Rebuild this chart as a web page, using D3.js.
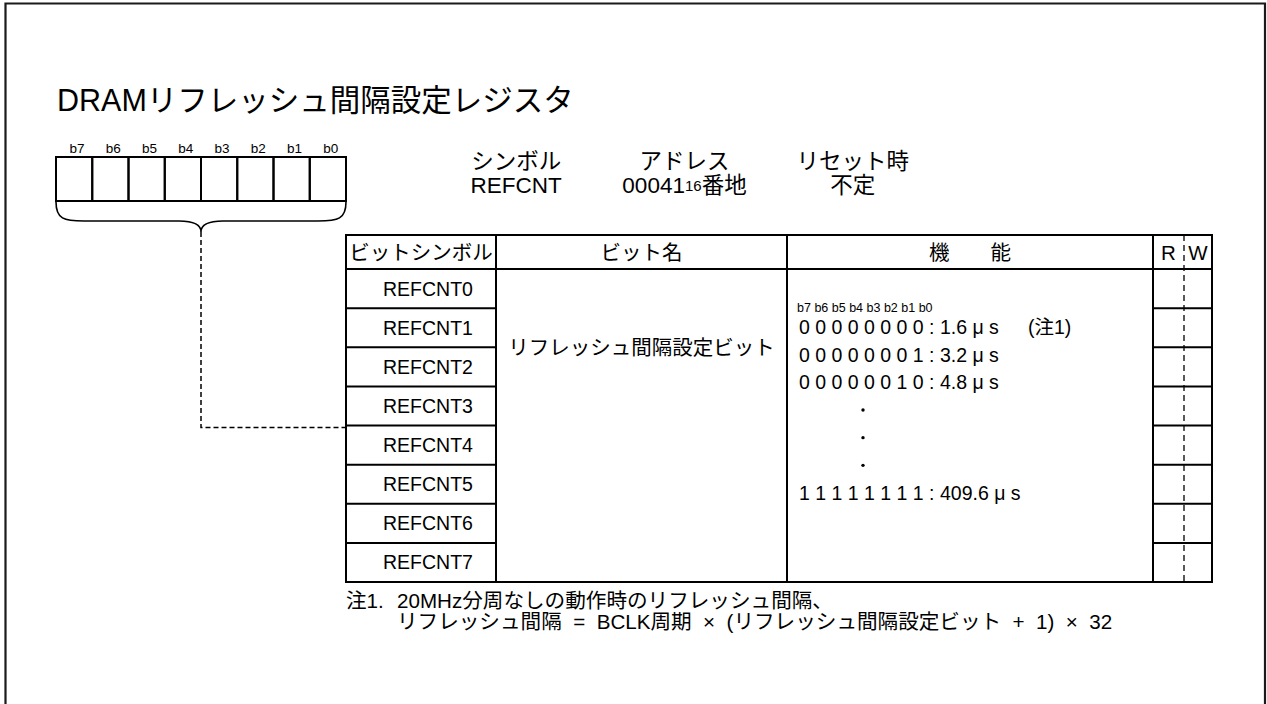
<!DOCTYPE html>
<html><head><meta charset="utf-8">
<script src="https://cdn.jsdelivr.net/npm/d3@7"></script>
<style>
body{margin:0;background:#fff}
svg{display:block}
text{font-family:"Liberation Sans","Noto Sans CJK JP",Arial,sans-serif;fill:#000;white-space:pre}
</style>
</head><body>
<svg id="c" width="1267" height="704"></svg>
<script>
// ---------- data ----------
const title = "DRAMリフレッシュ間隔設定レジスタ";
const bitLabels = ["b7","b6","b5","b4","b3","b2","b1","b0"];
const infoHeads = ["シンボル","アドレス","リセット時"];
const infoValues = [["REFCNT"],["00041","16","番地"],["不定"]];
const tableHeads = ["ビットシンボル","ビット名","機　　能"];
const rwHeads = ["R","W"];
const bitSymbols = ["REFCNT0","REFCNT1","REFCNT2","REFCNT3","REFCNT4","REFCNT5","REFCNT6","REFCNT7"];
const bitName = "リフレッシュ間隔設定ビット";
const funcBitHeader = "b7 b6 b5 b4 b3 b2 b1 b0";
const funcCodes = ["00000000","00000001","00000010","·","·","·","11111111"];
const funcValues = ["1.6","3.2","4.8","","","","409.6"];
const funcNotes = ["(注1)","","","","","",""];
const noteLabel = "注1.";
const noteLines = ["20MHz分周なしの動作時のリフレッシュ間隔、",
  "リフレッシュ間隔  =  BCLK周期  ×  (リフレッシュ間隔設定ビット  +  1)  ×  32"];

// ---------- drawing ----------
const svg = d3.select("#c");
const ink = "#000";

// frame
svg.append("path").attr("d","M5.5,710V3.5H1265V710")
  .attr("fill","none").attr("stroke","#1a1a1a").attr("stroke-width",2.2);

// title
svg.append("text").attr("x",57).attr("y",111).attr("font-size",30.5).text(title);

// bit box
const xb = d3.scaleBand().domain(bitLabels).range([56,346]);
const boxTop = 157, boxBot = 201;
const gb = svg.append("g");
gb.selectAll("rect").data(bitLabels).join("rect")
  .attr("x",d=>xb(d)).attr("y",boxTop).attr("width",xb.bandwidth()).attr("height",boxBot-boxTop)
  .attr("fill","none").attr("stroke",ink).attr("stroke-width",2);
gb.selectAll("text").data(bitLabels).join("text")
  .attr("x",d=>xb(d)+xb.bandwidth()/2+3).attr("y",148)
  .attr("text-anchor","middle").attr("dominant-baseline","central").attr("font-size",13.5).text(d=>d);

// brace
const bl = xb.range()[0], br = xb.range()[1], bm = (bl+br)/2;
const by0 = 202, by1 = 221, by2 = 232;
svg.append("path")
  .attr("d",`M${bl},${by0} C${bl},${by1-2} ${bl+8},${by1} ${bl+28},${by1} H${bm-22} C${bm-6},${by1} ${bm},${by1+4} ${bm},${by2} C${bm},${by1+4} ${bm+6},${by1} ${bm+22},${by1} H${br-28} C${br-8},${by1} ${br},${by1-2} ${br},${by0}`)
  .attr("fill","none").attr("stroke",ink).attr("stroke-width",1.6);

// table geometry
const tTop = 235, hBot = 269, tBot = 582;
const c0 = 346, c1 = 496, c2 = 787, c3 = 1153, cRW = 1184, c4 = 1212;
const y = d3.scaleBand().domain(bitSymbols).range([hBot,tBot]);

// dashed connector
svg.append("path").attr("d",`M${bm},${by2} V${y("REFCNT4")+2} H${c0}`)
  .attr("fill","none").attr("stroke",ink).attr("stroke-width",1.5).attr("stroke-dasharray","5,3");

// info header
const xi = d3.scaleBand().domain(infoHeads).range([432,937]);
svg.selectAll("text.ih").data(infoHeads).join("text").attr("class","ih")
  .attr("x",d=>xi(d)+xi.bandwidth()/2).attr("y",161)
  .attr("text-anchor","middle").attr("dominant-baseline","central").attr("font-size",22.5).text(d=>d);
const iv = svg.selectAll("text.iv").data(infoValues).join("text").attr("class","iv")
  .attr("x",(d,i)=>xi(infoHeads[i])+xi.bandwidth()/2).attr("y",185)
  .attr("text-anchor","middle").attr("dominant-baseline","central").attr("font-size",22.5);
iv.each(function(d){
  const t = d3.select(this);
  d.forEach((s,k)=>{
    t.append("tspan").attr("font-size", d.length===3 && k===1 ? 15 : null).text(s);
  });
});

// table lines
const tl = svg.append("g").attr("stroke",ink).attr("stroke-width",2).attr("fill","none");
tl.append("rect").attr("x",c0).attr("y",tTop).attr("width",c4-c0).attr("height",tBot-tTop);
[c1,c2,c3].forEach(cx=>tl.append("line").attr("x1",cx).attr("x2",cx).attr("y1",tTop).attr("y2",tBot));
tl.append("line").attr("x1",c0).attr("x2",c4).attr("y1",hBot).attr("y2",hBot);
bitSymbols.slice(1).forEach(s=>{
  tl.append("line").attr("x1",c0).attr("x2",c1).attr("y1",y(s)).attr("y2",y(s));
  tl.append("line").attr("x1",c3).attr("x2",c4).attr("y1",y(s)).attr("y2",y(s));
});
svg.append("line").attr("x1",cRW).attr("x2",cRW).attr("y1",tTop).attr("y2",tBot)
  .attr("stroke",ink).attr("stroke-width",1.3).attr("stroke-dasharray","6,4");

// header texts
const headX = [(c0+c1)/2,(c1+c2)/2,(c2+c3)/2];
svg.selectAll("text.th").data(tableHeads).join("text").attr("class","th")
  .attr("x",(d,i)=>headX[i]).attr("y",(tTop+hBot)/2)
  .attr("text-anchor","middle").attr("dominant-baseline","central").attr("font-size",20.5).text(d=>d);
svg.selectAll("text.rw").data(rwHeads).join("text").attr("class","rw")
  .attr("x",(d,i)=>i===0?(c3+cRW)/2:(cRW+c4)/2).attr("y",(tTop+hBot)/2)
  .attr("text-anchor","middle").attr("dominant-baseline","central").attr("font-size",20.5).text(d=>d);

// bit symbols
svg.selectAll("text.bs").data(bitSymbols).join("text").attr("class","bs")
  .attr("x",(c0+c1)/2+7).attr("y",d=>y(d)+y.bandwidth()/2)
  .attr("text-anchor","middle").attr("dominant-baseline","central").attr("font-size",19.5).text(d=>d);

// bit name
svg.append("text").attr("x",(c1+c2)/2).attr("y",347)
  .attr("text-anchor","middle").attr("dominant-baseline","central").attr("font-size",20.5).text(bitName);

// function column
const fx = c2+12;
svg.append("text").attr("x",fx-2).attr("y",308).attr("dominant-baseline","central")
  .attr("font-size",12.5).text(funcBitHeader);
const fy = d3.scalePoint().domain(d3.range(funcCodes.length)).range([327,493]);
funcCodes.forEach((code,i)=>{
  if(code==="·"){
    svg.append("circle").attr("cx",fx+64).attr("cy",fy(i)).attr("r",1.7).attr("fill",ink);
  } else {
    const t = svg.append("text").attr("x",fx).attr("y",fy(i)).attr("dominant-baseline","central").attr("font-size",19.5);
    t.append("tspan").text(code.split("").join(" ") + " : " + funcValues[i] + " μ s");
    if(funcNotes[i]) t.append("tspan").attr("x",fx+229).text(funcNotes[i]);
  }
});

// notes
svg.append("text").attr("x",346).attr("y",600).attr("dominant-baseline","central").attr("font-size",20.6).text(noteLabel);
noteLines.forEach((s,i)=>{
  svg.append("text").attr("x",397).attr("y",600+i*21).attr("dominant-baseline","central").attr("font-size",20.6).text(s);
});
</script>
</body></html>
